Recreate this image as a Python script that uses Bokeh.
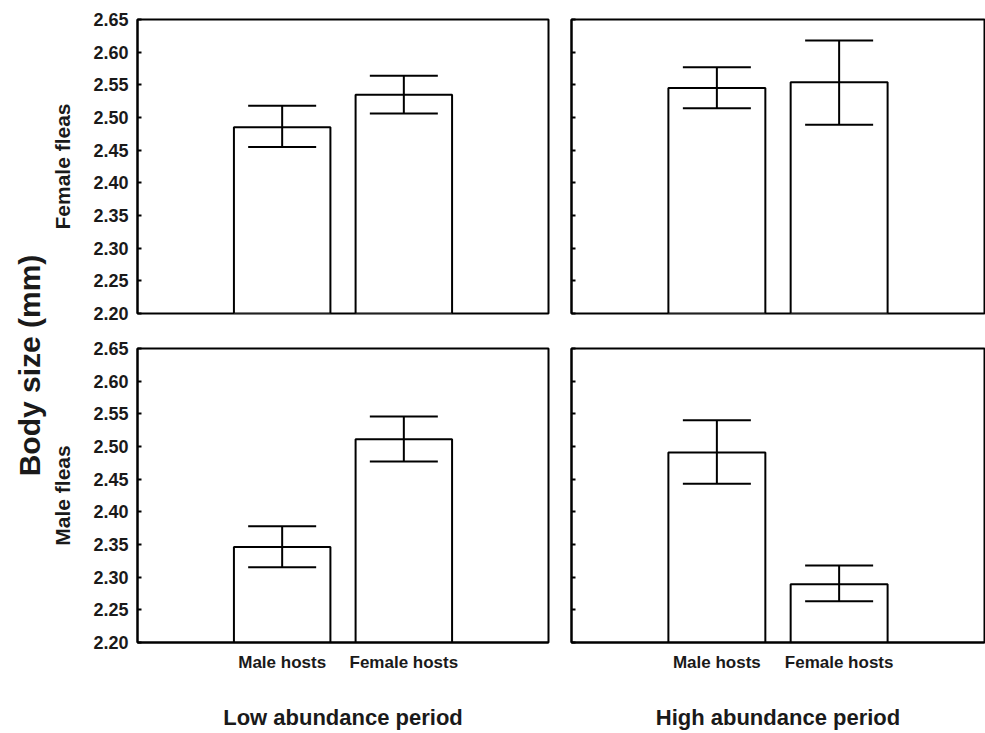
from bokeh.plotting import figure
from bokeh.layouts import row, column
from bokeh.models import (Range1d, FixedTicker, NumeralTickFormatter, Whisker, TeeHead,
                          ColumnDataSource, Label, CustomJSTickFormatter)
from bokeh.embed import file_html
from bokeh.resources import INLINE

# ---------------- data ----------------
hosts = ["Male hosts", "Female hosts"]
host_pos = [1, 2]
periods = ["Low abundance period", "High abundance period"]
flea_sexes = ["Female fleas", "Male fleas"]
y_ticks = [2.20, 2.25, 2.30, 2.35, 2.40, 2.45, 2.50, 2.55, 2.60, 2.65]

female_low_mean = [2.485, 2.535]
female_low_lower = [2.455, 2.506]
female_low_upper = [2.518, 2.564]

female_high_mean = [2.545, 2.554]
female_high_lower = [2.514, 2.489]
female_high_upper = [2.577, 2.618]

male_low_mean = [2.346, 2.511]
male_low_lower = [2.315, 2.477]
male_low_upper = [2.378, 2.546]

male_high_mean = [2.491, 2.289]
male_high_lower = [2.443, 2.263]
male_high_upper = [2.540, 2.318]

FONT = "Liberation Sans"
TXT = "#1a1a1a"


def make_panel(mean, lower, upper, is_left, is_bottom, ylabel=None, xlabel=None):
    width = 511 if is_left else 426
    height = 330 if not is_bottom else 403
    p = figure(width=width, height=height, output_backend="svg", toolbar_location=None,
               x_range=Range1d(-0.189, 3.189), y_range=Range1d(2.20, 2.65),
               x_axis_location="below" if is_bottom else None,
               y_axis_location="left")
    p.min_border_left = 87 if is_left else 12
    p.min_border_right = 11 if is_left else 1
    p.min_border_top = 19 if not is_bottom else 18
    p.min_border_bottom = 17 if not is_bottom else 91
    p.background_fill_color = "white"
    p.border_fill_color = "white"
    p.outline_line_color = "black"
    p.outline_line_width = 2
    p.outline_line_alpha = 1
    p.xgrid.visible = False
    p.ygrid.visible = False

    src = ColumnDataSource(dict(x=host_pos, top=mean, lower=lower, upper=upper))
    p.vbar(x="x", top="top", bottom=2.20, width=0.793, source=src,
           fill_color="white", line_color="black", line_width=2)
    w = Whisker(source=src, base="x", lower="lower", upper="upper", dimension="height",
                line_color="black", line_width=2, level="overlay",
                upper_head=TeeHead(size=68, line_color="black", line_width=2),
                lower_head=TeeHead(size=68, line_color="black", line_width=2))
    p.add_layout(w)

    ya = p.yaxis[0]
    ya.ticker = FixedTicker(ticks=y_ticks)
    ya.major_tick_in = 4
    ya.major_tick_out = 0
    ya.major_tick_line_width = 2
    ya.major_tick_line_color = "black"
    ya.minor_tick_line_color = None
    ya.axis_line_color = "black"
    ya.axis_line_width = 2
    if is_left:
        ya.formatter = NumeralTickFormatter(format="0.00")
        ya.major_label_text_font = FONT
        ya.major_label_text_font_style = "bold"
        ya.major_label_text_font_size = "18px"
        ya.major_label_text_color = TXT
        ya.major_label_standoff = 9
        ya.axis_label = ylabel
        ya.axis_label_text_font = FONT
        ya.axis_label_text_font_style = "bold"
        ya.axis_label_text_font_size = "21px"
        ya.axis_label_text_color = TXT
        ya.axis_label_standoff = 16
    else:
        ya.formatter = CustomJSTickFormatter(code="return ''")
        ya.major_label_standoff = 0
        ya.major_label_text_font_size = "1px"

    if is_bottom:
        xa = p.xaxis[0]
        xa.ticker = FixedTicker(ticks=host_pos)
        xa.major_label_overrides = {hp: h for hp, h in zip(host_pos, hosts)}
        xa.major_tick_in = 0
        xa.major_tick_out = 0
        xa.minor_tick_line_color = None
        xa.axis_line_color = "black"
        xa.axis_line_width = 2
        xa.major_label_text_font = FONT
        xa.major_label_text_font_style = "bold"
        xa.major_label_text_font_size = "17px"
        xa.major_label_text_color = TXT
        xa.major_label_standoff = 10
        xa.axis_label = xlabel
        xa.axis_label_text_font = FONT
        xa.axis_label_text_font_style = "bold"
        xa.axis_label_text_font_size = "22px"
        xa.axis_label_text_color = TXT
        xa.axis_label_standoff = 30
    return p


tl = make_panel(female_low_mean, female_low_lower, female_low_upper, True, False, ylabel=flea_sexes[0])
tr = make_panel(female_high_mean, female_high_lower, female_high_upper, False, False)
bl = make_panel(male_low_mean, male_low_lower, male_low_upper, True, True,
                ylabel=flea_sexes[1], xlabel=periods[0])
br = make_panel(male_high_mean, male_high_lower, male_high_upper, False, True, xlabel=periods[1])

# narrow panel carrying the shared y title
side = figure(width=48, height=733, output_backend="svg", toolbar_location=None,
              x_range=Range1d(0, 48), y_range=Range1d(0, 733),
              x_axis_location=None, y_axis_location=None)
side.min_border_left = side.min_border_right = side.min_border_top = side.min_border_bottom = 0
side.outline_line_color = None
side.xgrid.visible = False
side.ygrid.visible = False
side.add_layout(Label(x=29, y=368, text="Body size (mm)", angle=90, angle_units="deg",
                      text_align="center", text_baseline="middle", text_font=FONT,
                      text_font_style="bold", text_font_size="30px", text_color=TXT))

layout = row(side, column(row(tl, tr), row(bl, br)))

open("out.html", "w").write(file_html(layout, INLINE))
